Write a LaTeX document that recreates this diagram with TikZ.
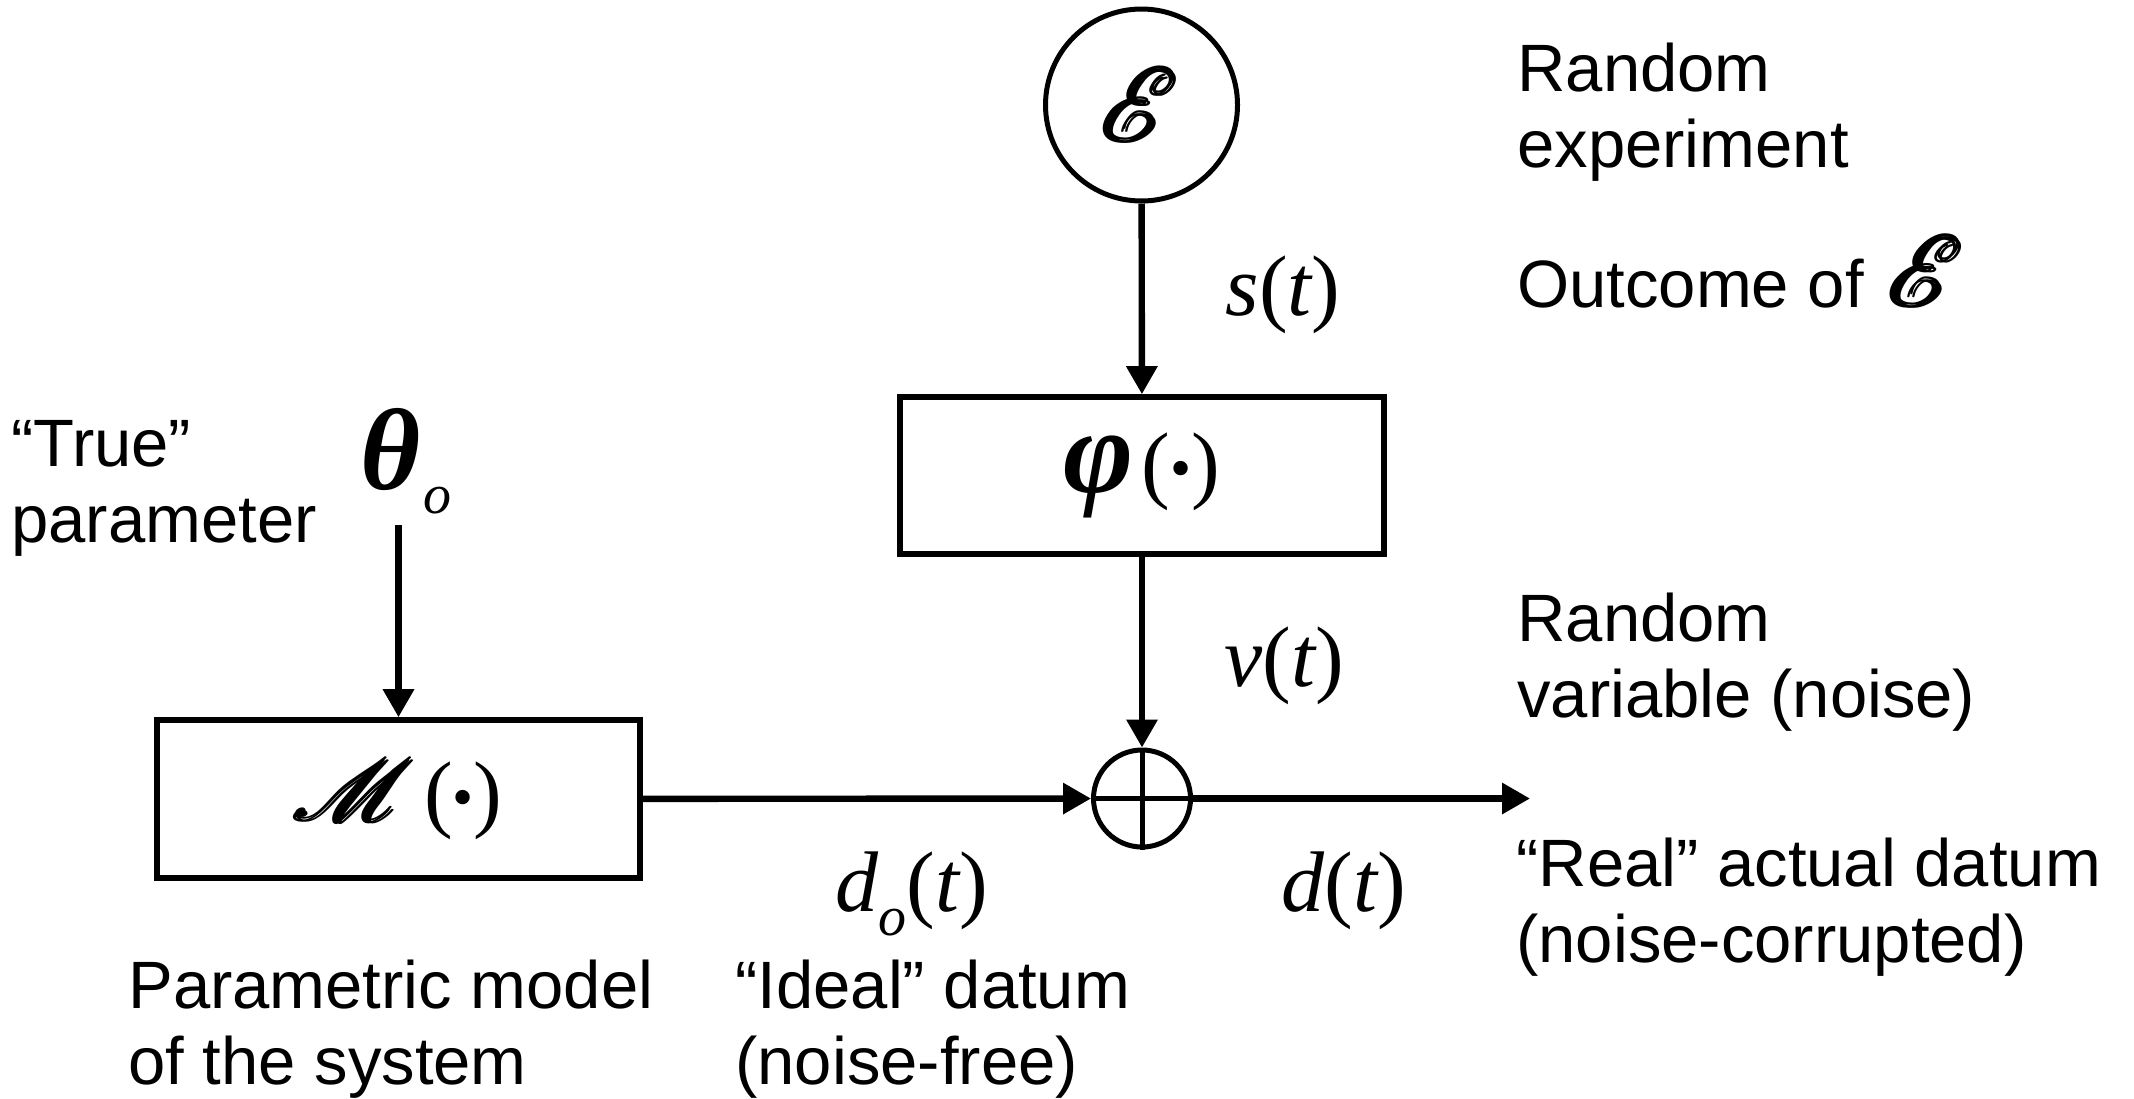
\documentclass[tikz,border=0pt]{standalone}
\usepackage{fontspec}
\usepackage{graphicx}
\usepackage{amsmath}
\usepackage{mathrsfs}
\setmainfont{Liberation Sans}
\newfontfamily\tms{Liberation Serif}
\usetikzlibrary{arrows.meta}
\newcommand\scrE[2]{\scalebox{#1}[#2]{\fontsize{10}{12}\selectfont$\pmb{\mathscr{E}}$}}
\newcommand\scrM[2]{\scalebox{#1}[#2]{\fontsize{10}{12}\selectfont$\pmb{\mathscr{M}}$}}
\newcommand\subo{\raisebox{-12pt}{\fontsize{28}{28}\selectfont\itshape o}}
\newcommand\mdot{\raisebox{2pt}{\scalebox{0.7}{•}}}
\begin{document}
\begin{tikzpicture}[x=0.5pt,y=-0.5pt,
  blk/.style={draw, line width=2.8pt, inner sep=0pt, font=\tms\fontsize{43}{50}\selectfont},
  circ/.style={draw, circle, line width=2.5pt, inner sep=0pt},
  conn/.style={line width=3.2pt, -{Triangle[length=14pt,width=15pt]}},
  lab/.style={font=\fontsize{33.5}{38}\selectfont, align=left, inner sep=0pt, anchor=north west},
  mth/.style={font=\tms\fontsize{43}{50}\selectfont, inner sep=0pt, anchor=base},
]
\useasboundingbox (0,0) rectangle (2134,1098);

% blocks
\node[circ, minimum size=96pt] (exp) at (1141.5,105) {\scrE{5.2}{5.2}};
\node[blk, minimum width=242pt, minimum height=78.5pt] (phi) at (1142,475.5)
  {{\fontsize{60}{60}\selectfont\bfseries\itshape φ}\hspace{4pt}(\mdot)};
\node[blk, minimum width=241.5pt, minimum height=79pt] (mod) at (398.5,799)
  {\scrM{4.9}{4.3}\hspace{4pt}(\mdot)};
\node[circ, minimum size=48.5pt] (sum) at (1142,798.5) {};
\draw[line width=2.5pt] (sum.north) -- (sum.south);
\draw[line width=2.5pt] (sum.west) -- (sum.east);

% math labels
\node[mth] (theta) at (406,489) {{\fontsize{58}{60}\selectfont\bfseries\itshape θ}\hspace{1pt}\subo};
\node[mth] (st) at (1283,315) {{\itshape s}({\itshape t})};
\node[mth] (vt) at (1284,686) {{\itshape v}({\itshape t})};
\node[mth] (dt) at (1344,911) {{\itshape d}({\itshape t})};
\node[mth] (dot) at (912,911) {{\itshape d}\subo({\itshape t})};

% connectors
\coordinate (thetaend) at (398.5,525);
\coordinate (out) at (1530,798.5);
\draw[conn] (exp) -- (phi);
\draw[conn] (phi) -- (sum);
\draw[conn] (thetaend) -- (mod);
\draw[conn] (mod) -- (sum);
\draw[conn] (sum.east) -- (out);

% text labels
\node[lab] (t1) at (1517,43) {\fontsize{33.5}{40.5}\selectfont Random\\experiment};
\node[lab, anchor=base west] (t2) at (1517,307) {Outcome of\hspace{4pt} \scrE{5}{5}};
\node[lab] (t3) at (1517,593) {\fontsize{33.5}{37.5}\selectfont Random\\variable (noise)};
\node[lab] (t4) at (1516,838) {\fontsize{33.5}{36.5}\selectfont “Real” actual datum\\(noise-corrupted)};
\node[lab] (t5) at (128,960) {\fontsize{33.5}{37}\selectfont Parametric model\\of the system};
\node[lab] (t6) at (735,960) {\fontsize{33.5}{37}\selectfont “Ideal” datum\\(noise-free)};
\node[lab] (t7) at (11,420) {\fontsize{33.5}{40}\selectfont “True”\\parameter};
\end{tikzpicture}
\end{document}
